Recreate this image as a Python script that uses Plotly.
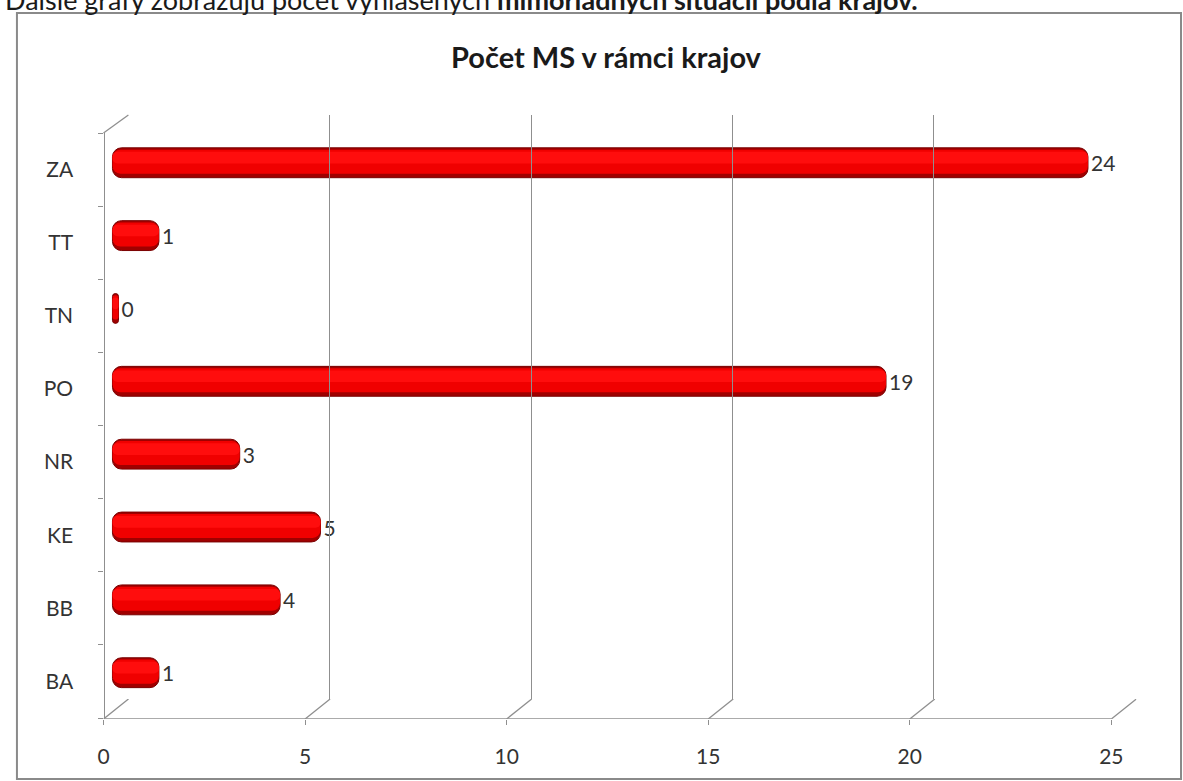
import plotly.graph_objects as go

# ---- data ----
categories = ["BA", "BB", "KE", "NR", "PO", "TN", "TT", "ZA"]
counts = [1, 4, 5, 3, 19, 0, 1, 24]
x_ticks = [0, 5, 10, 15, 20, 25]
x_tick_labels = ["0", "5", "10", "15", "20", "25"]
chart_title = "Počet MS v rámci krajov"
top_text = ("Ďalšie grafy zobrazujú počet vyhlásených "
            "<b>mimoriadnych situácií podľa krajov.</b>")

# ---- style constants ----
W, H = 1183, 781
FONT = "Lato"
TXT = "#333333"
GRID = "#8f8f8f"
CAP = 0.15          # cylinder end-cap thickness (value units)
DEPTH = 0.62        # perspective depth shift (value units)


def px(v):
    return v / W


def py(v):
    return 1 - v / H


bar_len = [v + CAP for v in counts]
labels = [str(v) for v in counts]

fig = go.Figure()

# dark base / outline of cylinder
fig.add_trace(go.Bar(
    y=categories, x=bar_len, base=0, orientation="h",
    width=0.41, offset=-0.215,
    marker=dict(color="#a00000", line=dict(color="#7a0000", width=1),
                cornerradius=9),
    text=labels, textposition="outside", cliponaxis=False,
    textfont=dict(family=FONT, size=21, color=TXT),
    xaxis="x", yaxis="y", showlegend=False, hoverinfo="skip",
))
# bright body
fig.add_trace(go.Bar(
    y=categories, x=bar_len, base=0, orientation="h",
    width=0.33, offset=-0.16,
    marker=dict(color="#f00000", line=dict(width=0), cornerradius=8),
    xaxis="x", yaxis="y", showlegend=False, hoverinfo="skip",
))
# subtle highlight
fig.add_trace(go.Bar(
    y=categories, x=bar_len, base=0, orientation="h",
    width=0.16, offset=-0.02,
    marker=dict(color="#ff0d0d", line=dict(width=0), cornerradius=5),
    xaxis="x", yaxis="y", showlegend=False, hoverinfo="skip",
))

# front category axis (labels)
fig.add_trace(go.Scatter(
    x=[None] * len(categories), y=categories, mode="markers",
    xaxis="x", yaxis="y2", showlegend=False, hoverinfo="skip",
))
# back wall gridlines
fig.add_trace(go.Scatter(
    x=[None], y=[None], mode="markers",
    xaxis="x3", yaxis="y3", showlegend=False, hoverinfo="skip",
))
# floor: front edge + perspective diagonals
fx, fy = [0, x_ticks[-1], None], [0, 0, None]
for t in x_ticks:
    fx += [t, t + DEPTH, None]
    fy += [0, 1, None]
fig.add_trace(go.Scatter(
    x=fx, y=fy, mode="lines", line=dict(color=GRID, width=1.3),
    xaxis="x4", yaxis="y4", showlegend=False, hoverinfo="skip",
))

fig.update_layout(
    width=W, height=H,
    margin=dict(l=0, r=0, t=0, b=0),
    paper_bgcolor="white", plot_bgcolor="rgba(0,0,0,0)",
    barmode="overlay",
    font=dict(family=FONT, color=TXT),
    xaxis=dict(domain=[px(86.7), px(1122)], range=[-0.5, 25], visible=False,
               anchor="y"),
    yaxis=dict(domain=[py(708.4), py(125.6)], range=[-0.5, 7.5],
               type="category", categoryorder="array",
               categoryarray=categories, visible=False, anchor="x"),
    yaxis2=dict(domain=[py(718), py(133)], range=[-0.5, 7.5],
                type="category", categoryorder="array",
                categoryarray=categories, anchor="free", position=px(98),
                showline=True, linecolor=GRID, linewidth=1.3,
                ticks="outside", tickson="boundaries", ticklen=5,
                tickcolor=GRID, showgrid=False, zeroline=False,
                ticklabelstandoff=26,
                tickfont=dict(family=FONT, size=21, color=TXT)),
    xaxis3=dict(domain=[px(123), px(1135)], range=[-0.01, 25.01],
                anchor="y3", tickvals=x_ticks, showticklabels=False,
                showgrid=True, gridcolor=GRID, gridwidth=1.3,
                zeroline=False, showline=False, ticks=""),
    yaxis3=dict(domain=[py(699), py(115)], range=[0, 1], visible=False,
                anchor="x3"),
    xaxis4=dict(domain=[px(98), px(98 + 25.62 * 40.52)],
                range=[0, 25 + DEPTH], anchor="y4",
                tickvals=x_ticks, ticktext=x_tick_labels,
                ticks="outside", ticklen=5, tickcolor=GRID,
                showgrid=False, zeroline=False, showline=False,
                ticklabelstandoff=14,
                tickfont=dict(family=FONT, size=21, color=TXT)),
    yaxis4=dict(domain=[py(719), py(699)], range=[0, 1], visible=False,
                anchor="x4"),
    shapes=[
        # chart border
        dict(type="rect", xref="paper", yref="paper",
             x0=px(11), x1=px(1181), y0=py(779), y1=py(13),
             line=dict(color="#8a8a8a", width=2)),
        # left wall top edge
        dict(type="line", xref="paper", yref="paper",
             x0=px(98), y0=py(133), x1=px(123), y1=py(115),
             line=dict(color=GRID, width=1.3)),
    ],
    annotations=[
        dict(text="<b>" + chart_title + "</b>", xref="paper", yref="paper",
             x=px(604), y=py(57), xanchor="center", yanchor="middle",
             showarrow=False,
             font=dict(family=FONT, size=29, color="#1a1a1a")),
        dict(text=top_text, xref="paper", yref="paper",
             x=px(-3), y=py(-1), xanchor="left", yanchor="middle",
             showarrow=False,
             font=dict(family=FONT, size=27, color="#1a1a1a")),
    ],
)

fig.write_html(
    "out.html",
    config={"displayModeBar": False},
    post_script="document.body.style.margin='0px';"
                "document.body.style.overflow='hidden';",
)
